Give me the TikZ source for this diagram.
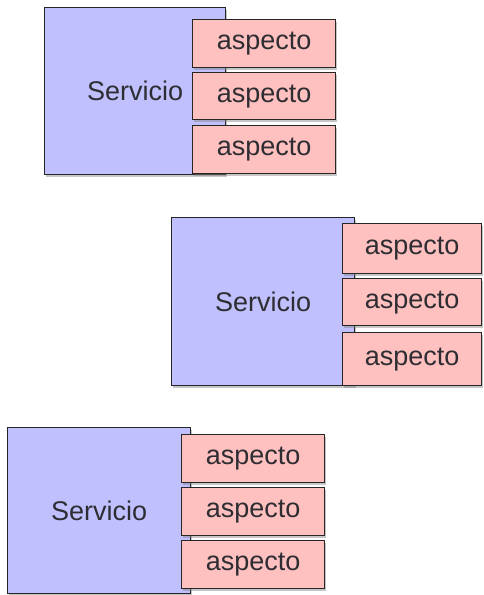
\documentclass[tikz,border=0pt]{standalone}
\usepackage{fontspec}
\setmainfont{Liberation Sans}
\usetikzlibrary{shadows}
\definecolor{servfill}{RGB}{192,192,255}
\definecolor{aspfill}{RGB}{255,192,192}
\definecolor{txt}{RGB}{45,45,50}
\begin{document}
\begin{tikzpicture}[x=1pt,y=-1pt,
  box/.style={draw=black!85, line width=1.4pt, inner sep=0pt, anchor=north west,
    drop shadow={shadow xshift=0.8pt, shadow yshift=-2.5pt, opacity=0.45},
    font=\fontsize{27}{31}\selectfont, text=txt},
  servbox/.style={box, fill=servfill},
  aspbox/.style={box, fill=aspfill}]
\useasboundingbox (0,0) rectangle (483,595);
% group 1
\node[servbox, minimum width=181pt, minimum height=167pt] (s1) at (44,7) {Servicio};
\node[aspbox, minimum width=143pt, minimum height=48pt] (a11) at (192,19) {aspecto};
\node[aspbox, minimum width=143pt, minimum height=47pt] (a12) at (192,72) {aspecto};
\node[aspbox, minimum width=143pt, minimum height=48pt] (a13) at (192,125) {aspecto};
% group 2
\node[servbox, minimum width=183pt, minimum height=168pt] (s2) at (171,217) {Servicio};
\node[aspbox, minimum width=139pt, minimum height=50pt] (a21) at (342,223) {aspecto};
\node[aspbox, minimum width=139pt, minimum height=47pt] (a22) at (342,278) {aspecto};
\node[aspbox, minimum width=139pt, minimum height=53pt] (a23) at (342,332) {aspecto};
% group 3
\node[servbox, minimum width=183pt, minimum height=166pt] (s3) at (7,427) {Servicio};
\node[aspbox, minimum width=143pt, minimum height=48pt] (a31) at (181,434) {aspecto};
\node[aspbox, minimum width=143pt, minimum height=48pt] (a32) at (181,487) {aspecto};
\node[aspbox, minimum width=143pt, minimum height=48pt] (a33) at (181,540) {aspecto};
\end{tikzpicture}
\end{document}
